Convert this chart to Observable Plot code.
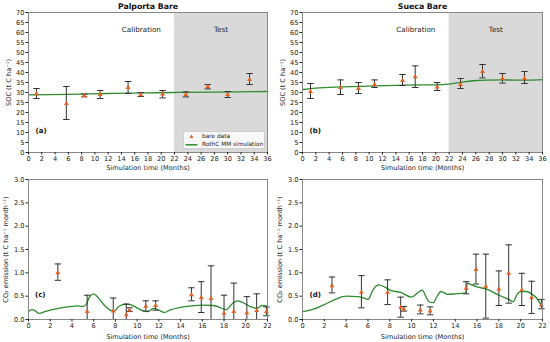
<!DOCTYPE html>
<html>
<head>
<meta charset="utf-8">
<script src="https://cdn.jsdelivr.net/npm/d3@7"></script>
<script src="https://cdn.jsdelivr.net/npm/@observablehq/plot@0.6"></script>
<style>
  html, body { margin: 0; padding: 0; background: #fff; }
  #wrap { position: relative; width: 550px; height: 342px; font-family: "DejaVu Sans", sans-serif; }
  .cell { position: absolute; width: 275px; height: 171px; }
  .legend { position: absolute; left: 183px; top: 131px; width: 82px; height: 18px; box-sizing: border-box;
    background: rgba(255,255,255,0.8); border: 1px solid #cfcfcf; border-radius: 2px; font-size: 5.8px; color: #222; white-space: nowrap; }
  .legend svg { position: absolute; left: 0; top: 0; }
  .legend span { position: absolute; left: 18px; line-height: 1; }
</style>
</head>
<body>
<div id="wrap"></div>
<script>
// ---------- data ----------
const periods = ["Calibration", "Test"];
const periodStart = [0, 22];
const periodEnd = [22, 36];
const periodLabelX = [17, 29];

// SOC measurements (months)
const socMonths = [1.2, 5.7, 8.4, 10.8, 15, 16.9, 20.2, 23.7, 27, 30, 33.3];
const palSoc     = [29.3, 24.5, 28.5, 29.0, 32.5, 28.8, 29.2, 29.0, 33.0, 29.0, 36.5];
const palSocLow  = [27.0, 16.5, 27.8, 27.0, 29.5, 28.0, 27.3, 27.8, 31.8, 27.5, 34.0];
const palSocHigh = [32.0, 33.0, 29.2, 31.0, 35.5, 30.0, 31.0, 30.3, 34.0, 30.5, 39.5];
const sueSoc     = [30.5, 32.5, 32.0, 34.0, 36.0, 37.8, 32.7, 34.0, 40.5, 37.0, 37.0];
const sueSocLow  = [27.0, 29.0, 29.5, 32.5, 33.5, 32.5, 31.0, 32.0, 37.3, 34.7, 34.5];
const sueSocHigh = [34.5, 36.3, 35.0, 36.3, 39.0, 43.3, 35.0, 37.0, 44.0, 39.5, 40.5];

// SOC simulation
const palSimMonths = [0, 6, 12, 18, 22, 28, 36];
const palSimSoc    = [28.8, 29.1, 29.5, 29.8, 30.0, 30.2, 30.5];
const sueSimMonths = [0, 2, 6, 10, 14, 18, 20, 22, 24, 26, 28, 30, 32, 34, 36];
const sueSimSoc    = [31.5, 32.2, 32.8, 33.2, 33.6, 33.8, 33.8, 34.2, 35.2, 36.0, 36.2, 36.3, 36.2, 36.2, 36.4];

// CO2 measurements
const co2Months = [2.7, 5.4, 7.8, 9.0, 9.3, 10.8, 11.7, 15.0, 15.9, 16.8, 18.0, 18.9, 20.1, 21.0, 21.9];
const palCo2     = [1.00, 0.17, 0.18, 0.10, 0.20, 0.28, 0.30, 0.53, 0.47, 0.45, 0.13, 0.17, 0.14, 0.19, 0.17];
const palCo2Low  = [0.84, 0.00, 0.00, 0.00, 0.17, 0.18, 0.20, 0.40, 0.15, 0.00, 0.00, 0.00, 0.00, 0.00, 0.08];
const palCo2High = [1.19, 0.52, 0.46, 0.33, 0.25, 0.40, 0.40, 0.68, 0.81, 1.15, 0.52, 0.78, 0.49, 0.55, 0.27];
const sueCo2     = [0.72, 0.58, 0.58, 0.26, 0.22, 0.20, 0.18, 0.67, 1.07, 0.71, 0.65, 0.99, 0.63, 0.47, 0.31];
const sueCo2Low  = [0.57, 0.25, 0.32, 0.05, 0.18, 0.12, 0.10, 0.55, 0.76, 0.03, 0.30, 0.35, 0.30, 0.13, 0.23];
const sueCo2High = [0.91, 0.94, 0.85, 0.48, 0.28, 0.31, 0.27, 0.81, 1.40, 1.40, 1.04, 1.60, 0.99, 0.82, 0.43];

// CO2 simulation
const palSimCo2Months = [0, 0.3, 0.5, 1, 1.5, 2, 3, 4, 4.5, 5, 5.3, 5.6, 6, 6.3, 7, 7.5, 7.9, 8.3, 9, 9.5, 10, 10.5, 11, 11.5, 12, 12.5, 13, 14, 15, 16, 17, 17.5, 18, 18.2, 18.8, 19.2, 19.6, 20, 20.5, 21, 21.5, 22];
const palSimCo2       = [0.17, 0.21, 0.20, 0.13, 0.17, 0.20, 0.25, 0.28, 0.29, 0.28, 0.32, 0.48, 0.55, 0.50, 0.30, 0.20, 0.18, 0.28, 0.33, 0.31, 0.25, 0.19, 0.17, 0.24, 0.20, 0.15, 0.20, 0.26, 0.29, 0.31, 0.30, 0.27, 0.22, 0.21, 0.35, 0.40, 0.38, 0.33, 0.27, 0.24, 0.30, 0.28];
const sueSimCo2Months = [0, 0.5, 1, 2, 3, 4, 5, 5.5, 6, 6.5, 7, 7.5, 8, 9, 10, 10.5, 11, 11.2, 11.6, 12, 12.3, 12.7, 13.3, 14, 15, 15.1, 15.5, 16, 17, 18, 19, 19.3, 19.7, 20, 20.5, 21, 21.5, 22];
const sueSimCo2       = [0.17, 0.19, 0.22, 0.32, 0.43, 0.50, 0.49, 0.47, 0.43, 0.65, 0.74, 0.70, 0.63, 0.58, 0.48, 0.56, 0.63, 0.55, 0.38, 0.36, 0.48, 0.60, 0.54, 0.55, 0.57, 0.78, 0.74, 0.70, 0.64, 0.52, 0.42, 0.38, 0.55, 0.60, 0.60, 0.55, 0.45, 0.25];

// ---------- helpers ----------
const zipPts = (xs, v, lo, hi) => xs.map((x, i) => ({x, v: v[i], lo: lo[i], hi: hi[i]}));
const zipLine = (xs, v) => xs.map((x, i) => ({x, v: v[i]}));
const shadeData = periods.map((p, i) => ({p, start: periodStart[i], end: periodEnd[i], lx: periodLabelX[i]}));

const capSymbol = {
  draw(ctx, size) {
    const r = Math.sqrt(size / Math.PI);
    ctx.moveTo(-r, 0); ctx.lineTo(r, 0);
  }
};

const ORANGE = "#e4611f";
const GREEN = "#2e8b2e";
const BAR = "#333333";

function panel(o) {
  const marks = [];
  if (o.shade) {
    marks.push(Plot.rect(shadeData.filter(d => d.p === "Test"), {x1: "start", x2: "end", y1: 0, y2: o.yMax, fill: "#d9d9d9"}));
    marks.push(Plot.text(shadeData, {x: "lx", frameAnchor: "top", lineAnchor: "middle", dy: 17, text: "p", fontSize: 7.2, fill: "#222"}));
  }
  marks.push(
    Plot.line(o.line, {x: "x", y: "v", stroke: GREEN, strokeWidth: 1.3, curve: "monotone-x"}),
    Plot.ruleX(o.pts, {x: "x", y1: d => Math.max(0, d.lo), y2: "hi", stroke: BAR, strokeWidth: 1}),
    Plot.dot(o.pts, {x: "x", y: "hi", symbol: capSymbol, r: 3.2, stroke: BAR, strokeWidth: 1}),
    Plot.dot(o.pts.filter(d => d.lo > 0.0001), {x: "x", y: "lo", symbol: capSymbol, r: 3.2, stroke: BAR, strokeWidth: 1}),
    Plot.dot(o.pts, {x: "x", y: "v", symbol: "triangle", r: 1.8, fill: ORANGE, stroke: "none"}),
    Plot.text([o.tag], {frameAnchor: "bottom-left", lineAnchor: "middle", dx: o.tagDx, dy: -o.tagDy, text: d => d, fontWeight: "bold", fontSize: 7, textAnchor: "start", fill: "#111"}),
    Plot.frame({stroke: "#888", strokeWidth: 1}),
    Plot.axisX({ticks: d3.range(0, o.xMax + 0.001, o.xStep), tickSize: 2.5, tickPadding: 1, label: "Simulation time (Months)", labelAnchor: "center", labelArrow: "none", labelOffset: o.xLabelOffset}),
    Plot.axisY({ticks: d3.range(0, o.yMax + 0.0001, o.yStep), tickFormat: o.yFmt, tickSize: 2.5, tickPadding: 1.5, label: o.yLabel, labelAnchor: "center", labelArrow: "none", labelOffset: o.yLabelOffset})
  );
  if (o.title) {
    marks.push(Plot.text([o.title], {frameAnchor: "top", lineAnchor: "middle", dy: -6, text: d => d, fontWeight: "bold", fontSize: 7.8, fill: "#111"}));
  }
  return Plot.plot({
    width: 275, height: 171,
    marginLeft: o.ml, marginRight: o.mr, marginTop: o.mt, marginBottom: o.mb,
    x: {domain: [0, o.xMax]},
    y: {domain: [0, o.yMax]},
    style: {fontFamily: "DejaVu Sans", fontSize: "6.6px", color: "#222", background: "transparent", overflow: "visible"},
    marks
  });
}

const wrap = document.getElementById("wrap");
function place(node, left, top) {
  const d = document.createElement("div");
  d.className = "cell";
  d.style.left = left + "px"; d.style.top = top + "px";
  d.appendChild(node);
  wrap.appendChild(d);
  return d;
}

const socLabel = "SOC (t C ha⁻¹)";
const co2Label = "CO₂ emission (t C ha⁻¹ month⁻¹)";

const a = place(panel({
  pts: zipPts(socMonths, palSoc, palSocLow, palSocHigh), line: zipLine(palSimMonths, palSimSoc),
  xMax: 36, xStep: 2, yMax: 70, yStep: 5, yLabel: socLabel, title: "Palporta Bare", tag: "(a)",
  tagDx: 7, tagDy: 22, shade: true, ml: 28, mr: 8, mt: 12, mb: 19, xLabelOffset: 17, yLabelOffset: 22
}), 0, 0);
place(panel({
  pts: zipPts(socMonths, sueSoc, sueSocLow, sueSocHigh), line: zipLine(sueSimMonths, sueSimSoc),
  xMax: 36, xStep: 2, yMax: 70, yStep: 5, yLabel: socLabel, title: "Sueca Bare", tag: "(b)",
  tagDx: 7, tagDy: 22, shade: true, ml: 27, mr: 8, mt: 12, mb: 19, xLabelOffset: 17, yLabelOffset: 22
}), 275, 0);
place(panel({
  pts: zipPts(co2Months, palCo2, palCo2Low, palCo2High), line: zipLine(palSimCo2Months, palSimCo2),
  xMax: 22, xStep: 2, yMax: 3, yStep: 0.5, yFmt: d3.format(".1f"), yLabel: co2Label, tag: "(c)",
  tagDx: 6.5, tagDy: 25, shade: false, ml: 28, mr: 8, mt: 8, mb: 23, xLabelOffset: 19, yLabelOffset: 25
}), 0, 171);
place(panel({
  pts: zipPts(co2Months, sueCo2, sueCo2Low, sueCo2High), line: zipLine(sueSimCo2Months, sueSimCo2),
  xMax: 22, xStep: 2, yMax: 3, yStep: 0.5, yFmt: d3.format(".1f"), yLabel: co2Label, tag: "(d)",
  tagDx: 7, tagDy: 25, shade: false, ml: 27, mr: 8, mt: 8, mb: 23, xLabelOffset: 19, yLabelOffset: 25
}), 275, 171);

// legend for panel (a)
const lg = document.createElement("div");
lg.className = "legend";
lg.innerHTML = `<svg width="18" height="18">
  <path d="M7.5,2.6 L9.4,5.9 L5.6,5.9 Z" fill="${ORANGE}"/>
  <line x1="1.5" x2="13.5" y1="12.8" y2="12.8" stroke="${GREEN}" stroke-width="1.5"/>
</svg>
<span style="top:1.6px">bare data</span>
<span style="top:9.6px">RothC MM simulation</span>`;
a.appendChild(lg);
</script>
</body>
</html>
